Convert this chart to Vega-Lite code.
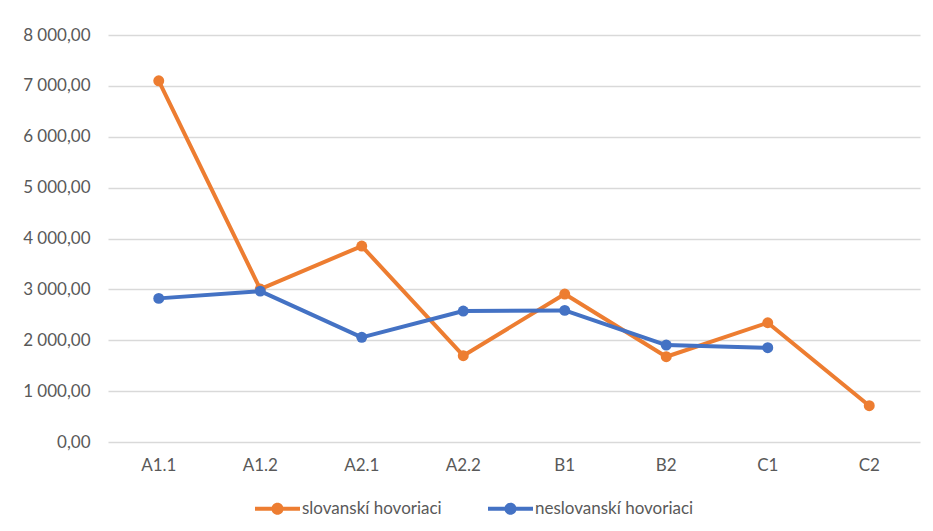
{
  "$schema": "https://vega.github.io/schema/vega-lite/v6.json",
  "autosize": {"type": "none"},
  "width": 812,
  "height": 407,
  "padding": {"left": 108, "top": 35, "right": 13, "bottom": 89},
  "background": "white",
  "config": {
    "locale": {"number": {"decimal": ",", "thousands": " ", "grouping": [3], "currency": ["", " €"]}},
    "view": {"stroke": null},
    "font": "Lato"
  },
  "data": {
    "values": [
      {"level": "A1.1", "series": "slovanskí hovoriaci", "value": 7099},
      {"level": "A1.2", "series": "slovanskí hovoriaci", "value": 3006},
      {"level": "A2.1", "series": "slovanskí hovoriaci", "value": 3851},
      {"level": "A2.2", "series": "slovanskí hovoriaci", "value": 1696},
      {"level": "B1", "series": "slovanskí hovoriaci", "value": 2908},
      {"level": "B2", "series": "slovanskí hovoriaci", "value": 1676},
      {"level": "C1", "series": "slovanskí hovoriaci", "value": 2344},
      {"level": "C2", "series": "slovanskí hovoriaci", "value": 713},
      {"level": "A1.1", "series": "neslovanskí hovoriaci", "value": 2823},
      {"level": "A1.2", "series": "neslovanskí hovoriaci", "value": 2966},
      {"level": "A2.1", "series": "neslovanskí hovoriaci", "value": 2057},
      {"level": "A2.2", "series": "neslovanskí hovoriaci", "value": 2574},
      {"level": "B1", "series": "neslovanskí hovoriaci", "value": 2587},
      {"level": "B2", "series": "neslovanskí hovoriaci", "value": 1906},
      {"level": "C1", "series": "neslovanskí hovoriaci", "value": 1853}
    ]
  },
  "encoding": {
    "x": {
      "field": "level", "type": "nominal", "sort": null,
      "scale": {"type": "band", "paddingInner": 0, "paddingOuter": 0},
      "axis": {"title": null, "labelAngle": 0, "domain": false, "ticks": false, "grid": false,
               "labelFontSize": 17, "labelColor": "#595959", "labelPadding": 15, "labelFont": "Lato"}
    },
    "y": {
      "field": "value", "type": "quantitative",
      "scale": {"domain": [0, 8000], "nice": false},
      "axis": {"title": null, "values": [0,1000,2000,3000,4000,5000,6000,7000,8000], "format": ",.2f",
               "domain": false, "ticks": false, "gridColor": "#D9D9D9", "gridWidth": 1.3,
               "labelFontSize": 17, "labelColor": "#595959", "labelPadding": 18, "labelFont": "Lato"}
    },
    "color": {
      "field": "series", "type": "nominal",
      "scale": {"domain": ["slovanskí hovoriaci", "neslovanskí hovoriaci"], "range": ["#ED7D31", "#4472C4"]},
      "legend": {
        "title": null, "orient": "none", "direction": "horizontal",
        "legendX": 147, "legendY": 451,
        "symbolType": "M-1,-0.09L1,-0.09L1,0.09L-1,0.09Z M0.27,0A0.27,0.27,0,1,1,-0.27,0A0.27,0.27,0,1,1,0.27,0Z",
        "symbolSize": 2025, "symbolStrokeWidth": 0,
        "labelFontSize": 17, "labelColor": "#595959", "labelFont": "Lato", "labelOffset": 2,
        "columnPadding": 46,
        "encode": {"symbols": {"update": {"fill": {"scale": "color", "field": "value"}, "fillOpacity": {"value": 1}, "strokeWidth": {"value": 0}}}}
      }
    }
  },
  "layer": [
    {"mark": {"type": "line", "strokeWidth": 4, "strokeJoin": "round"}},
    {"mark": {"type": "point", "filled": true, "opacity": 1, "size": 120}}
  ]
}
